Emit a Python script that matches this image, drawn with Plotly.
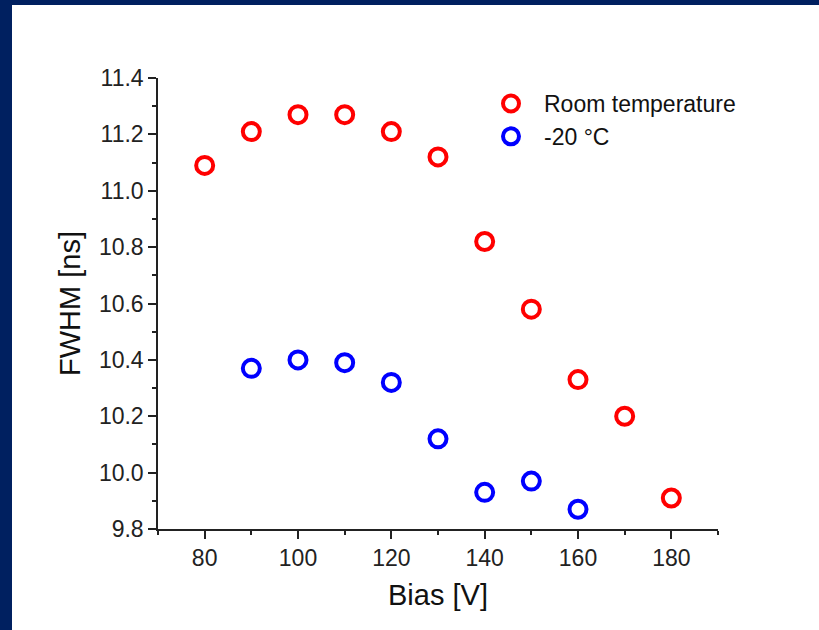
import plotly.graph_objects as go

bias_room = [80, 90, 100, 110, 120, 130, 140, 150, 160, 170, 180]
fwhm_room = [11.09, 11.21, 11.27, 11.27, 11.21, 11.12, 10.82, 10.58, 10.33, 10.20, 9.91]
bias_cold = [90, 100, 110, 120, 130, 140, 150, 160]
fwhm_cold = [10.37, 10.40, 10.39, 10.32, 10.12, 9.93, 9.97, 9.87]
names = ["Room temperature", "-20 °C"]

W, H = 819, 630
L, R, T, B = 158, 101, 78, 101
pw, ph = W - L - R, H - T - B

fig = go.Figure()
fig.add_trace(go.Scatter(x=bias_room, y=fwhm_room, mode="markers", name=names[0],
                         marker=dict(symbol="circle-open", size=17, color="#ff0000",
                                     line=dict(width=4, color="#ff0000"))))
fig.add_trace(go.Scatter(x=bias_cold, y=fwhm_cold, mode="markers", name=names[1],
                         marker=dict(symbol="circle-open", size=17, color="#0000ff",
                                     line=dict(width=4, color="#0000ff"))))

navy = "#002060"
fig.add_shape(type="rect", xref="paper", yref="paper", layer="above",
              x0=(0 - L) / pw, x1=(12 - L) / pw, y0=-(H - T - ph) / ph - 0.01, y1=1 + T / ph + 0.01,
              fillcolor=navy, line=dict(width=0))
fig.add_shape(type="rect", xref="paper", yref="paper", layer="above",
              x0=(0 - L) / pw, x1=(W - L) / pw + 0.01, y0=1 + (T - 5) / ph, y1=1 + T / ph + 0.01,
              fillcolor=navy, line=dict(width=0))

axis_common = dict(showgrid=False, zeroline=False, showline=True, linecolor="#222222", linewidth=1.5,
                   ticks="outside", ticklen=8, tickwidth=1.5, tickcolor="#222222",
                   tickfont=dict(size=23, color="#222222"), mirror=False)
fig.update_xaxes(range=[70, 190], tick0=80, dtick=20,
                 minor=dict(ticks="outside", ticklen=4, tickwidth=1.5, tickcolor="#222222", dtick=10, tick0=70),
                 title=dict(text="Bias [V]", font=dict(size=29, color="#111111"), standoff=14),
                 **axis_common)
fig.update_yaxes(range=[9.8, 11.4], tick0=9.8, dtick=0.2, tickformat=".1f",
                 minor=dict(ticks="outside", ticklen=4, tickwidth=1.5, tickcolor="#222222", dtick=0.1),
                 title=dict(text="FWHM [ns]", font=dict(size=29, color="#111111"), standoff=10),
                 **axis_common)

fig.update_layout(width=W, height=H, margin=dict(l=L, r=R, t=T, b=B, pad=0),
                  paper_bgcolor="white", plot_bgcolor="white",
                  font=dict(family="Liberation Sans, Arial, sans-serif", color="#111111"),
                  legend=dict(x=(478 - L) / pw, y=1 - (82 - T) / ph, xanchor="left", yanchor="top",
                              font=dict(size=23, color="#111111"), bgcolor="rgba(0,0,0,0)",
                              tracegroupgap=0, itemwidth=56),
                  showlegend=True)

fig.write_html("out.html")
